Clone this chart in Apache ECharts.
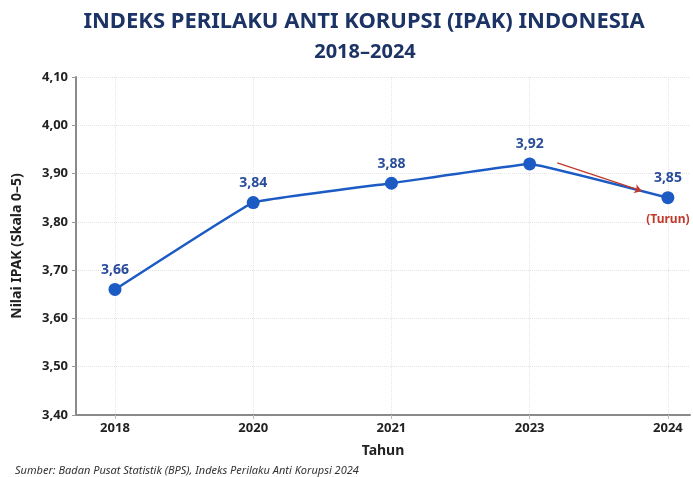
<!DOCTYPE html>
<html>
<head>
<meta charset="utf-8">
<script src="https://cdn.jsdelivr.net/npm/echarts@6/dist/echarts.min.js"></script>
<style>
  html, body { margin: 0; padding: 0; background: #fff; }
  #chart { width: 693px; height: 477px; }
</style>
</head>
<body>
<div id="chart"></div>
<script>
// data
const years = ["2018", "2020", "2021", "2023", "2024"];
const ipak = [3.66, 3.84, 3.88, 3.92, 3.85];
const yTicks = [3.4, 3.5, 3.6, 3.7, 3.8, 3.9, 4.0, 4.1];
// arrow annotation (x in year index, y in IPAK value)
const arrowStart = [3.2, 3.922];
const arrowEnd = [3.81, 3.864];

const fmt = (v) => v.toFixed(2).replace(".", ",");
const navy = "#1c3366";
const blue = "#1c5bc4";
const red = "#c0392b";
const font = "Noto Sans";

const chart = echarts.init(document.getElementById("chart"));

const option = {
  backgroundColor: "#fff",
  textStyle: { fontFamily: font },
  title: [
    {
      text: "INDEKS PERILAKU ANTI KORUPSI (IPAK) INDONESIA",
      left: 359,
      textAlign: "center",
      top: 6,
      textStyle: { fontFamily: font, fontSize: 22, fontWeight: "bold", color: navy },
    },
    {
      text: "2018–2024",
      left: 360,
      textAlign: "center",
      top: 37,
      textStyle: { fontFamily: font, fontSize: 20, fontWeight: "bold", color: navy },
    },
    {
      text: "Sumber: Badan Pusat Statistik (BPS), Indeks Perilaku Anti Korupsi 2024",
      left: 10,
      top: 460,
      textStyle: { fontFamily: font, fontSize: 11, fontStyle: "italic", fontWeight: "normal", color: "#333" },
    },
  ],
  grid: { left: 76, right: 3, top: 77, bottom: 62 },
  xAxis: {
    type: "value",
    min: -0.282,
    max: 4.16,
    name: "Tahun",
    nameLocation: "middle",
    nameGap: 29,
    nameTextStyle: { fontSize: 14, fontWeight: "bold", color: "#222" },
    axisLine: { show: true, onZero: false, lineStyle: { color: "#8a8a8a", width: 2 } },
    axisTick: { show: true, customValues: [0, 1, 2, 3, 4], length: 4, lineStyle: { color: "#bbb" } },
    axisLabel: {
      customValues: [0, 1, 2, 3, 4],
      formatter: (v) => years[Math.round(v)],
      fontSize: 13,
      fontWeight: "bold",
      color: "#222",
      margin: 7,
    },
    splitLine: { show: true, lineStyle: { color: "#e6e6e6", type: "dotted" } },
  },
  yAxis: {
    type: "value",
    min: yTicks[0],
    max: yTicks[yTicks.length - 1],
    interval: 0.1,
    name: "Nilai IPAK (Skala 0–5)",
    nameLocation: "middle",
    nameRotate: 90,
    nameGap: 52,
    nameTextStyle: { fontSize: 14, fontWeight: "bold", color: "#222" },
    axisLine: { show: true, onZero: false, lineStyle: { color: "#8a8a8a", width: 2 } },
    axisTick: { show: true, length: 4, lineStyle: { color: "#999" } },
    axisLabel: { formatter: fmt, fontSize: 13, fontWeight: "bold", color: "#222", margin: 8 },
    splitLine: { show: true, lineStyle: { color: "#e3e3e3", type: "dotted" } },
  },
  series: [
    {
      type: "line",
      data: ipak.map((v, i) => [i, v]),
      smooth: 0.06,
      symbol: "circle",
      symbolSize: 13,
      lineStyle: { color: blue, width: 2.5 },
      itemStyle: { color: blue },
      label: {
        show: true,
        position: "top",
        distance: 6,
        formatter: (p) => fmt(p.value[1]),
        fontSize: 14,
        fontWeight: "bold",
        color: "#2a4d9a",
      },
      markPoint: {
        symbol: "circle",
        symbolSize: 0,
        data: [
          {
            coord: [4, ipak[4]],
            label: {
              show: true,
              formatter: "(Turun)",
              position: "bottom",
              distance: 16,
              fontSize: 12,
              fontWeight: "bold",
              color: red,
            },
          },
        ],
      },
      markLine: {
        silent: true,
        symbol: ["none", "arrow"],
        symbolSize: 7,
        label: { show: false },
        lineStyle: { color: red, width: 1.3, type: "solid" },
        data: [[{ coord: arrowStart }, { coord: arrowEnd }]],
      },
    },
  ],
};

chart.setOption(option);
</script>
</body>
</html>
